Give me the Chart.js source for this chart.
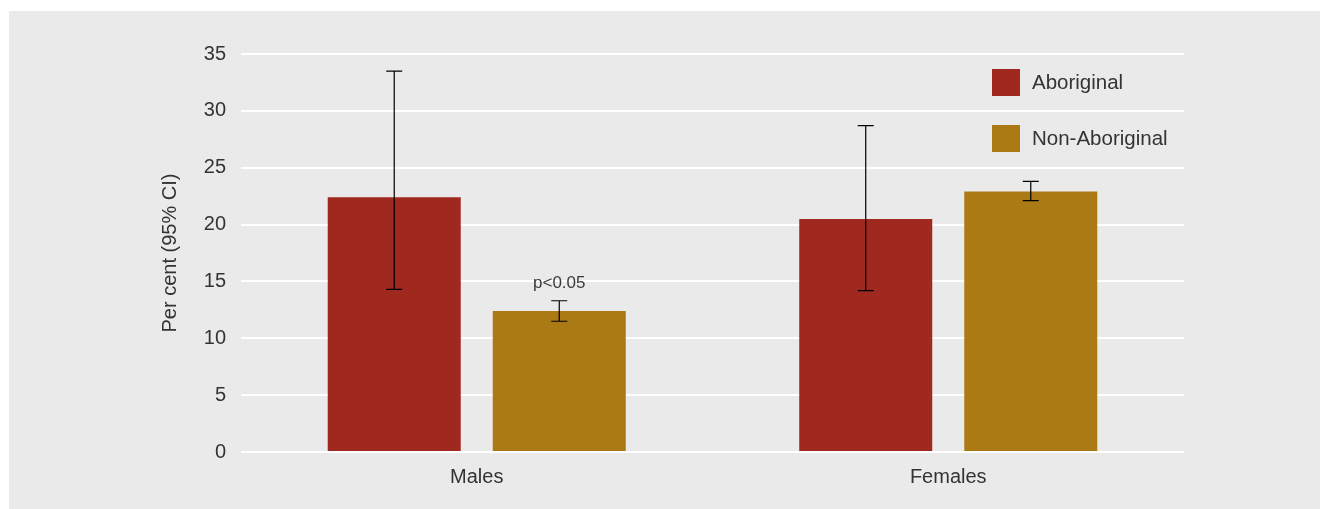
<!DOCTYPE html>
<html>
<head>
<meta charset="utf-8">
<script src="https://cdn.jsdelivr.net/npm/chart.js@4"></script>
<style>
  body { margin: 0; background: #fff; }
  #panel { position: absolute; left: 9px; top: 11px; width: 1311px; height: 498px; background: #eaeaea; }
</style>
</head>
<body>
<div id="panel"><canvas id="chart" width="1311" height="498"></canvas></div>
<script>
// Data
const categories = ['Males', 'Females'];
const aboriginal = [22.4, 20.5];
const aboriginalLow = [14.3, 14.2];
const aboriginalHigh = [33.5, 28.7];
const nonAboriginal = [12.4, 22.9];
const nonAboriginalLow = [11.5, 22.1];
const nonAboriginalHigh = [13.3, 23.8];
const nonAboriginalNote = ['p<0.05', ''];
const yTicks = [0, 5, 10, 15, 20, 25, 30, 35];

const fontFamily = '"Liberation Sans", Arial, sans-serif';
const textColor = '#333';

// Error bars, the p-value note and the legend box
const extras = {
    id: 'extras',
    afterDatasetsDraw(chart) {
        const ctx = chart.ctx;
        const y = chart.scales.y;
        ctx.save();
        chart.data.datasets.forEach((ds, i) => {
            const meta = chart.getDatasetMeta(i);
            meta.data.forEach((bar, j) => {
                const top = y.getPixelForValue(ds.high[j]);
                const bottom = y.getPixelForValue(ds.low[j]);
                ctx.strokeStyle = '#000';
                ctx.lineWidth = 1.2;
                ctx.beginPath();
                ctx.moveTo(bar.x, top);
                ctx.lineTo(bar.x, bottom);
                ctx.moveTo(bar.x - 8, top);
                ctx.lineTo(bar.x + 8, top);
                ctx.moveTo(bar.x - 8, bottom);
                ctx.lineTo(bar.x + 8, bottom);
                ctx.stroke();
                if (ds.note && ds.note[j]) {
                    ctx.fillStyle = '#3a3a3a';
                    ctx.font = '17px ' + fontFamily;
                    ctx.textAlign = 'center';
                    ctx.textBaseline = 'middle';
                    ctx.fillText(ds.note[j], bar.x, top - 17);
                }
            });
        });

        // legend
        const area = chart.chartArea;
        chart.data.datasets.forEach((ds, i) => {
            const bx = area.right - 192;
            const by = area.top + 15 + i * 56;
            ctx.fillStyle = ds.backgroundColor;
            ctx.fillRect(bx, by, 28, 27);
            ctx.fillStyle = textColor;
            ctx.font = '20.5px ' + fontFamily;
            ctx.textAlign = 'left';
            ctx.textBaseline = 'middle';
            ctx.fillText(ds.label, bx + 40, by + 14);
        });
        ctx.restore();
    }
};

new Chart(document.getElementById('chart'), {
    type: 'bar',
    data: {
        labels: categories,
        datasets: [{
            label: 'Aboriginal',
            data: aboriginal,
            low: aboriginalLow,
            high: aboriginalHigh,
            backgroundColor: '#a0291f',
            categoryPercentage: 0.7,
            barPercentage: 0.806
        }, {
            label: 'Non-Aboriginal',
            data: nonAboriginal,
            low: nonAboriginalLow,
            high: nonAboriginalHigh,
            note: nonAboriginalNote,
            backgroundColor: '#ab7a14',
            categoryPercentage: 0.7,
            barPercentage: 0.806
        }]
    },
    options: {
        responsive: false,
        animation: false,
        layout: { padding: { top: 43, right: 136, left: 0, bottom: 0 } },
        plugins: {
            legend: { display: false },
            tooltip: { enabled: false }
        },
        scales: {
            x: {
                grid: { display: false },
                border: { display: false },
                ticks: {
                    color: textColor,
                    padding: 5,
                    font: { family: fontFamily, size: 20 }
                },
                afterFit(scale) { scale.height = 57; }
            },
            y: {
                min: 0,
                max: 35,
                afterBuildTicks(scale) { scale.ticks = yTicks.map(v => ({ value: v })); },
                grid: { color: '#fff', lineWidth: 2, drawTicks: false },
                border: { display: false },
                ticks: {
                    color: textColor,
                    padding: 15,
                    font: { family: fontFamily, size: 20 }
                },
                title: {
                    display: true,
                    text: 'Per cent (95% CI)',
                    color: textColor,
                    padding: { top: 149, bottom: 0 },
                    font: { family: fontFamily, size: 20 }
                },
                afterFit(scale) { scale.width = 232; }
            }
        }
    },
    plugins: [extras]
});
</script>
</body>
</html>
